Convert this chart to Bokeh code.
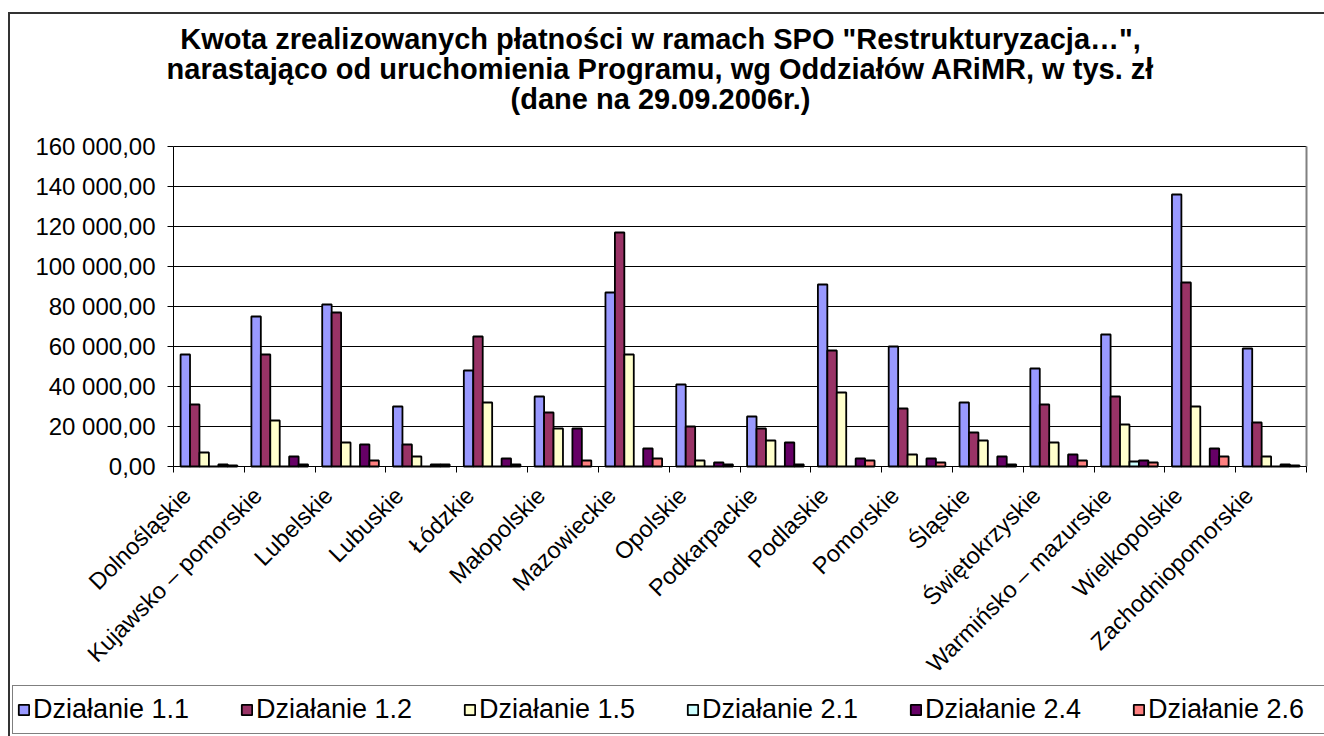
from bokeh.plotting import figure
from bokeh.models import (FixedTicker, Legend, LegendItem, Label, Range1d, ColumnDataSource)
from bokeh.transform import dodge
from bokeh.embed import file_html
from bokeh.resources import INLINE

# ---------------- data ----------------
regions = ["Dolnośląskie", "Kujawsko – pomorskie", "Lubelskie", "Lubuskie", "Łódzkie",
           "Małopolskie", "Mazowieckie", "Opolskie", "Podkarpackie", "Podlaskie",
           "Pomorskie", "Śląskie", "Świętokrzyskie", "Warmińsko – mazurskie",
           "Wielkopolskie", "Zachodniopomorskie"]
series_names = ["Działanie 1.1", "Działanie 1.2", "Działanie 1.5",
                "Działanie 2.1", "Działanie 2.4", "Działanie 2.6"]
d11 = [56000, 75000, 81000, 30000, 48000, 35000, 87000, 41000, 25000, 91000,
       60000, 32000, 49000, 66000, 136000, 59000]
d12 = [31000, 56000, 77000, 11000, 65000, 27000, 117000, 20000, 19000, 58000,
       29000, 17000, 31000, 35000, 92000, 22000]
d15 = [7000, 23000, 12000, 5000, 32000, 19000, 56000, 3000, 13000, 37000,
       6000, 13000, 12000, 21000, 30000, 5000]
d21 = [0, 0, 0, 0, 0, 0, 0, 0, 0, 0, 0, 0, 0, 2500, 0, 0]
d24 = [1000, 5000, 11000, 1000, 4000, 19000, 9000, 2000, 12000, 4000,
       4000, 5000, 6000, 3000, 9000, 1000]
d26 = [500, 1000, 3000, 1000, 1000, 3000, 4000, 1000, 1000, 3000,
       2000, 1000, 3000, 2000, 5000, 500]
y_ticks = [0, 20000, 40000, 60000, 80000, 100000, 120000, 140000, 160000]
title_lines = ['Kwota zrealizowanych płatności w ramach SPO "Restrukturyzacja…",',
               'narastająco od uruchomienia Programu, wg Oddziałów ARiMR, w tys. zł',
               '(dane na 29.09.2006r.)']

colors = ["#9999FF", "#993366", "#FFFFCC", "#CCFFFF", "#660066", "#FF8080"]
FONT = "Liberation Sans"

# ---------------- layout (page pixels) ----------------
W, H = 1324, 736
FL, FR, FT, FB = 173, 1306, 146, 466   # plot area (axes box)
NCAT = len(regions)
YMAX = 160000
px_per_x = (FR - FL) / NCAT
px_per_y = (FB - FT) / YMAX


def xd(px):
    return (px - FL) / px_per_x


def yd(py):
    return (FB - py) / px_per_y


centers = [i + 0.5 for i in range(NCAT)]
src = ColumnDataSource(dict(xc=centers, d11=d11, d12=d12, d15=d15,
                            d21=d21, d24=d24, d26=d26))

border_css = ("linear-gradient(#333,#333) 8px 12px / 2px calc(100% - 12px) no-repeat, "
              "linear-gradient(#333,#333) 8px 12px / calc(100% - 8px) 2px no-repeat, #ffffff")

# the frame fills the whole canvas; the axes are pinned at data 0
p = figure(width=W, height=H, output_backend="svg", toolbar_location=None,
           x_range=Range1d(xd(0), xd(W)), y_range=Range1d(yd(H), yd(0)),
           min_border=0)
p.background_fill_color = None
p.border_fill_color = None
p.outline_line_color = None
p.styles = {"background": border_css}

# horizontal grid lines across the plot area, from the y tick values
p.segment(x0=0, x1=NCAT, y0=y_ticks[1:], y1=y_ticks[1:], line_color="black", line_width=1)
# plot-area right edge
p.segment(x0=[NCAT], x1=[NCAT], y0=[0], y1=[YMAX], line_color="#808080", line_width=2)

bw = 1 / 7.5
cols = ["d11", "d12", "d15", "d21", "d24", "d26"]
renderers = []
for k, (c, col) in enumerate(zip(cols, colors)):
    r = p.vbar(x=dodge("xc", (k - 2.5) * bw, range=p.x_range), top=c, width=bw,
               source=src, fill_color=col, line_color="black", line_width=1.8)
    renderers.append(r)

# y axis
p.yaxis.fixed_location = 0
p.yaxis.bounds = (0, YMAX)
p.yaxis.ticker = FixedTicker(ticks=y_ticks)
p.yaxis.major_label_overrides = {
    t: f"{t:,.2f}".replace(",", " ").replace(".", ",") for t in y_ticks}
p.yaxis.major_label_text_font = FONT
p.yaxis.major_label_text_font_size = "24px"
p.yaxis.major_label_text_color = "black"
p.yaxis.major_tick_out = 6
p.yaxis.major_tick_in = 0
p.yaxis.minor_tick_line_color = None
p.yaxis.axis_line_color = "black"
p.yaxis.major_tick_line_color = "black"
p.yaxis.major_label_standoff = 12

# x axis: labels near category centres, tick marks at category boundaries
shift = 0.31
label_ticks = [round(c - shift, 3) for c in centers]
p.xaxis.fixed_location = 0
p.xaxis.bounds = (0, NCAT)
p.xaxis.ticker = FixedTicker(ticks=label_ticks, minor_ticks=list(range(NCAT + 1)))
p.xaxis.major_label_overrides = {t: n for t, n in zip(label_ticks, regions)}
p.xaxis.major_label_orientation = 0.785398
p.xaxis.major_label_text_font = FONT
p.xaxis.major_label_text_font_size = "23.5px"
p.xaxis.major_label_text_color = "black"
p.xaxis.major_tick_out = 0
p.xaxis.major_tick_in = 0
p.xaxis.minor_tick_out = 6
p.xaxis.minor_tick_in = 0
p.xaxis.minor_tick_line_color = "black"
p.xaxis.axis_line_color = "black"
p.xaxis.major_label_standoff = 19

p.xgrid.grid_line_color = None
p.ygrid.grid_line_color = None

# title
for ln, py in zip(title_lines, [38, 68, 98]):
    p.add_layout(Label(x=xd(660), y=yd(py), text=ln, text_align="center",
                       text_baseline="middle", text_font=FONT,
                       text_font_size="29px", text_font_style="bold",
                       text_color="black"))

# legend
legend = Legend(items=[LegendItem(label=n, renderers=[r])
                       for n, r in zip(series_names, renderers)],
                orientation="horizontal", location=(12, 2),
                border_line_color="black", border_line_width=1.5,
                background_fill_color="white", background_fill_alpha=1,
                label_text_font=FONT, label_text_font_size="27px",
                label_text_color="black", glyph_width=13, glyph_height=13,
                label_standoff=3, label_width=207, spacing=0, padding=4,
                margin=0, label_height=39)
p.add_layout(legend, "center")

open("out.html", "w").write(file_html(p, INLINE))
